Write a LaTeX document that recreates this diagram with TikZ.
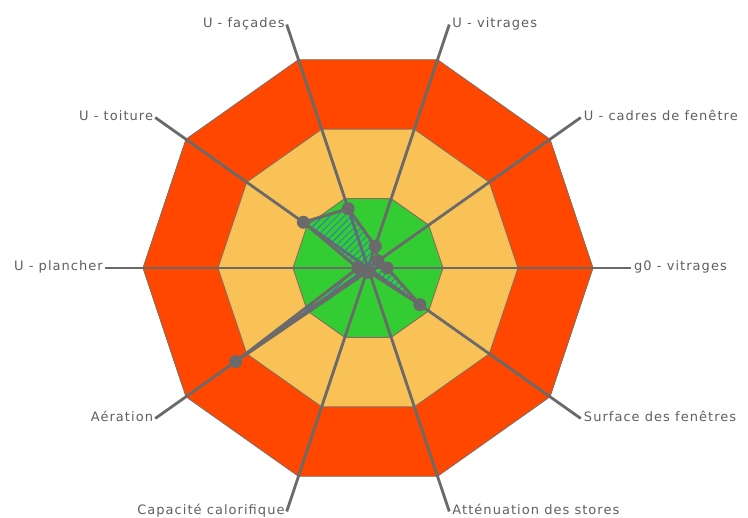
\documentclass[tikz,border=0pt]{standalone}
\usepackage{fontspec}
\setmainfont{DejaVu Sans}[LetterSpace=8]
\usetikzlibrary{patterns.meta}
\definecolor{ringred}{HTML}{FF4700}
\definecolor{ringyellow}{HTML}{F9C256}
\definecolor{ringgreen}{HTML}{33CC33}
\definecolor{ringedge}{HTML}{8A6A5A}
\definecolor{spokegray}{HTML}{6A6A6A}
\definecolor{labelgray}{HTML}{606060}
\definecolor{hatchblue}{HTML}{3A6FC4}
\tikzset{
  ring/.style={draw=ringedge, line width=0.9pt, line join=miter},
  spoke/.style={draw=spokegray, line width=2.8pt},
  dataline/.style={draw=spokegray, line width=3pt, line join=round},
  datadot/.style={fill=spokegray},
  lblr/.style={anchor=base west, inner sep=0pt, xshift=3pt, yshift=-3pt, text=labelgray, font=\fontsize{13}{15}\selectfont},
  lbll/.style={anchor=base east, inner sep=0pt, xshift=-2pt, yshift=-3pt, text=labelgray, font=\fontsize{13}{15}\selectfont}
}
\begin{document}
\begin{tikzpicture}[x=1pt,y=-1pt]
\useasboundingbox (0,0) rectangle (748,518);
\fill[white] (0,0) rectangle (748,518);
\coordinate (c) at (368,268);
\foreach \k/\v in {0/0.105,1/0.055,2/0.085,3/0.285,4/0.02,5/0.02,6/0.727,7/0.045,8/0.355,9/0.285}{
  \pgfmathsetmacro\a{72-36*\k}
  \coordinate (o\k) at ({368+225*cos(\a)},{268-219*sin(\a)});
  \coordinate (m\k) at ({368+150*cos(\a)},{268-146*sin(\a)});
  \coordinate (g\k) at ({368+75*cos(\a)},{268-73*sin(\a)});
  \coordinate (e\k) at ({368+263*cos(\a)},{268-256*sin(\a)});
  \coordinate (d\k) at ({368+225*\v*cos(\a)},{268-219*\v*sin(\a)});
}
% rings
\draw[ring, fill=ringred] (o0)--(o1)--(o2)--(o3)--(o4)--(o5)--(o6)--(o7)--(o8)--(o9)--cycle;
\draw[ring, fill=ringyellow] (m0)--(m1)--(m2)--(m3)--(m4)--(m5)--(m6)--(m7)--(m8)--(m9)--cycle;
\draw[ring, fill=ringgreen] (g0)--(g1)--(g2)--(g3)--(g4)--(g5)--(g6)--(g7)--(g8)--(g9)--cycle;
% spokes
\foreach \k in {0,...,9}{ \draw[spoke] (c) -- (e\k); }
% labels
\node[lblr] (l0) at (e0) {U - vitrages};
\node[lblr] (l1) at (e1) {U - cadres de fenêtre};
\node[lblr] (l2) at (e2) {g0 - vitrages};
\node[lblr] (l3) at (e3) {Surface des fenêtres};
\node[lblr] (l4) at (e4) {Atténuation des stores};
\node[lbll] (l5) at (e5) {Capacité calorifique};
\node[lbll] (l6) at (e6) {Aération};
\node[lbll] (l7) at (e7) {U - plancher};
\node[lbll] (l8) at (e8) {U - toiture};
\node[lbll] (l9) at (e9) {U - façades};
% data
\fill[pattern={Lines[angle=45,distance=5pt,line width=0.8pt]}, pattern color=hatchblue]
  (d0)--(d1)--(d2)--(d3)--(d4)--(d5)--(d6)--(d7)--(d8)--(d9)--cycle;
\draw[dataline] (d0)--(d1)--(d2)--(d3)--(d4)--(d5)--(d6)--(d7)--(d8)--(d9)--cycle;
\foreach \k in {0,...,9}{ \fill[datadot] (d\k) circle (6.5); }
\end{tikzpicture}
\end{document}
